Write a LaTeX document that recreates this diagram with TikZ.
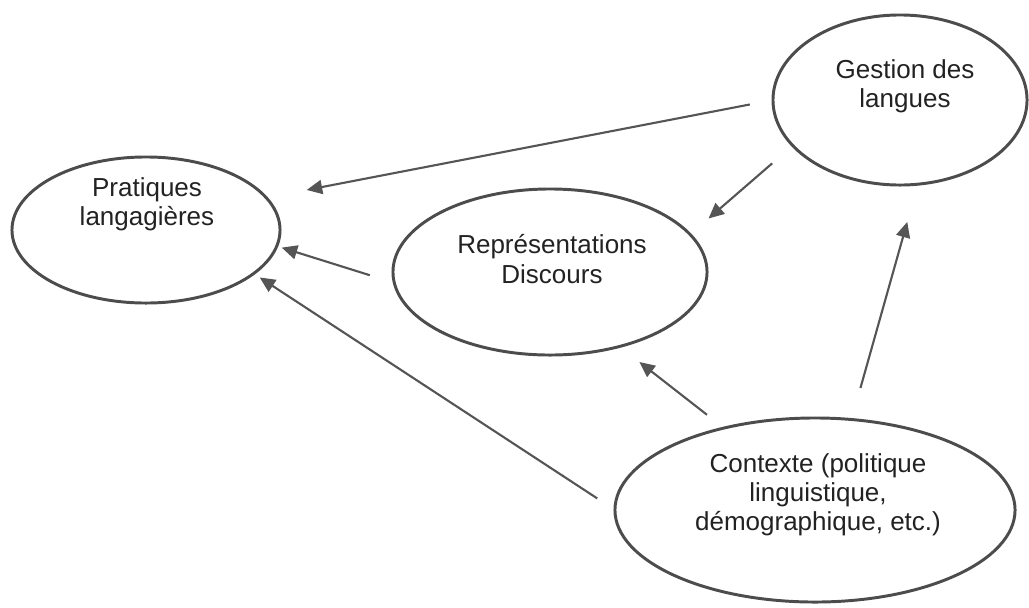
\documentclass[tikz,border=0pt]{standalone}
\usepackage{fontspec}
\setmainfont{Liberation Sans}
\usetikzlibrary{shapes.geometric,arrows.meta}
\definecolor{linegray}{HTML}{4C4C4C}
\definecolor{arrowgray}{HTML}{555555}
\definecolor{textdark}{HTML}{222222}
\begin{document}
\begin{tikzpicture}[x=0.025cm,y=-0.025cm,
  bubble/.style={draw=linegray,line width=2.1pt,ellipse,inner sep=0pt,outer sep=0pt},
  label text/.style={text=textdark,align=center,font=\fontsize{18.5}{20.8}\selectfont,inner sep=0pt},
  arr/.style={draw=arrowgray,line width=1.5pt,-{Triangle[length=11pt,width=10pt]}}]
\useasboundingbox (0,0) rectangle (1029,607);
% ellipses
\node[bubble,minimum width=6.7cm,minimum height=3.65cm] (P) at (146,230) {};
\node[bubble,minimum width=7.85cm,minimum height=4.15cm] (R) at (550,272) {};
\node[bubble,minimum width=6.35cm,minimum height=4.25cm] (G) at (900,100) {};
\node[bubble,minimum width=10cm,minimum height=4.6cm] (C) at (815,510) {};
% texts
\node[label text] (Pt) at (147,204) {Pratiques\\langagières};
\node[label text] (Rt) at (552,259) {Représentations\\Discours};
\node[label text] (Gt) at (905,86) {Gestion des\\langues};
\node[label text] (Ct) at (818,495) {Contexte (politique\\linguistique,\\démographique, etc.)};
% arrows
\draw[arr,shorten <=0.59cm,shorten >=1.03cm] (G.180) -- (P.15.5);
\draw[arr,shorten <=0.68cm,shorten >=0.61cm] (G.203.3) -- (R.15.9);
\draw[arr,shorten <=0.64cm,shorten >=0.13cm] (R.184) -- (P.353.3);
\draw[arr,shorten <=0.53cm,shorten >=0.18cm] (C.180.5) -- (P.338.3);
\draw[arr,shorten <=0.54cm,shorten >=0.63cm] (C.138.9) -- (R.313.6);
\draw[arr,shorten <=0.82cm,shorten >=0.98cm] (C.68.4) -- (G.282.7);
\end{tikzpicture}
\end{document}
